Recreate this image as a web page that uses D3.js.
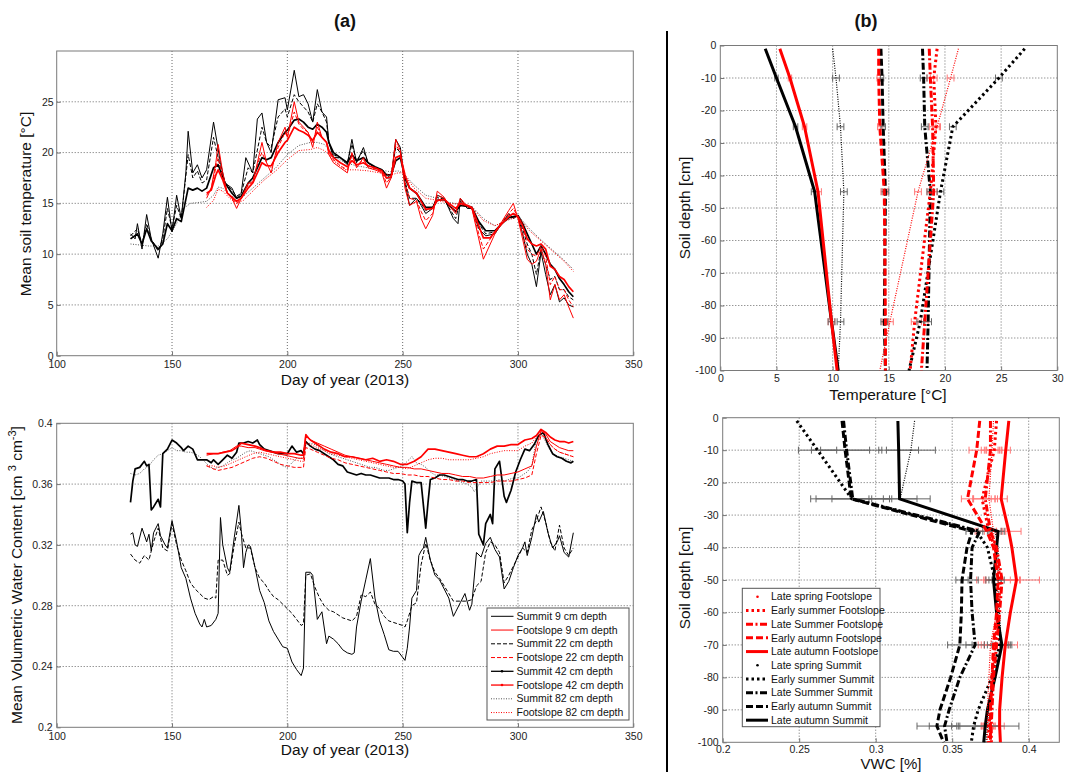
<!DOCTYPE html>
<html><head><meta charset="utf-8">
<script src="https://cdn.jsdelivr.net/npm/d3@7/dist/d3.min.js"></script>
<style>body{margin:0;background:#fff}</style>
</head><body>
<svg id="c" width="1065" height="772" xmlns="http://www.w3.org/2000/svg"></svg>
<script>
// ---------------- DATA: panel (a) top, mean soil temperature [°C] vs day of year
const tS9 = [[132,12],[134,11.5],[135,13],[137,10.5],[139,13.9],[141,11.5],[144,9.6],[146,12],[148,15.6],[150,12.2],[152,15.8],[154,13.5],[156,18],[157,22.1],[159,18],[161,18.8],[163,17.5],[165,18.3],[168,23],[171,19],[173,17],[176,16.5],[178,15.5],[180,16],[182,19.5],[185,18],[187,23.3],[189,23.9],[191,21],[193,20],[196,25.2],[199,25.4],[200,24.2],[203,28.1],[205,25.5],[207,25.7],[209,24.8],[211,23],[213,26.2],[215,24],[217,23.5],[218,21],[220,19.5],[223,19.5],[226,18.8],[228,21.3],[230,19],[233,20.5],[235,19],[238,18.5],[241,18.3],[243,17.5],[245,17.5],[247,21.3],[249,20.5],[251,17],[253,14.8],[256,15.5],[258,14.8],[260,14],[263,14.5],[265,15.8],[268,15.5],[270,14.5],[272,13.5],[274,13],[275,15.5],[278,14.5],[280,14.5],[283,12.5],[286,11.8],[290,12],[293,13],[296,14],[298,13.5],[300,13.8],[302,12],[304,10],[306,9],[308,6.8],[310,10.2],[312,8],[314,6],[316,7],[318,5.3],[320,5.7],[322,5],[324,4.8]];
const tS22 = [[132,11.8],[135,12.5],[137,11],[139,13],[141,11.5],[144,10.3],[146,11.5],[148,14.5],[150,12.5],[152,14.8],[154,13.5],[157,19.8],[159,17.5],[161,18.2],[163,17],[165,17.3],[168,21.5],[171,18.5],[173,17],[176,16.3],[178,15.7],[180,16],[183,18.5],[185,18],[189,22.5],[191,21],[193,20.5],[196,23.5],[199,24.3],[200,23.5],[203,25.7],[205,25],[207,24.5],[209,24],[211,23],[213,24.8],[215,24],[217,23],[218,21],[220,19.8],[223,19.5],[226,19],[228,20.8],[230,19.2],[233,20.2],[235,19],[238,18.5],[241,18.3],[243,17.5],[245,17.8],[247,20.5],[249,20],[251,17.2],[253,15.5],[256,15.5],[258,15],[260,14.3],[263,14.6],[265,15.6],[268,15.4],[270,14.6],[273,13.5],[275,15.2],[278,14.6],[280,14.5],[283,13],[286,12],[290,12.2],[293,13],[296,13.8],[298,13.6],[300,13.8],[302,12.5],[304,11],[306,10],[308,8],[310,10.5],[312,9],[314,7.5],[316,7.8],[318,6.5],[320,6.5],[322,5.8],[324,5.5]];
const tS42 = [[132,11.5],[135,12],[137,11],[139,12.5],[141,11.3],[144,10.5],[146,11],[148,13],[150,12.3],[152,13.5],[154,13.2],[157,16.5],[159,16.3],[161,16.5],[163,16.2],[165,16.5],[168,18.5],[170,18.8],[173,17],[176,16],[178,15.5],[180,15.7],[183,17],[185,17.5],[189,19.5],[191,19.3],[193,19.5],[196,21],[199,22],[200,22.2],[203,23.2],[205,23.3],[207,23],[209,22.5],[211,22.3],[213,22.8],[215,22.5],[217,22],[218,21],[220,20],[223,19.5],[226,19],[228,19.8],[230,19.2],[233,19.5],[235,19],[238,18.6],[241,18.3],[243,17.8],[245,17.8],[247,19.2],[249,19.5],[251,17.5],[253,16.5],[256,16],[258,15.3],[260,14.6],[263,14.6],[265,15.3],[268,15.4],[270,14.8],[273,14.2],[275,14.8],[278,14.7],[280,14.6],[283,13.2],[286,12.3],[290,12.3],[293,13],[296,13.6],[298,13.7],[300,13.8],[302,13],[304,12],[306,11],[308,10],[310,10.8],[312,10],[314,9],[316,8.5],[318,7.6],[320,7],[322,6.3],[324,5.8]];
const tS82 = [[132,11],[136,10.9],[140,10.8],[144,10.8],[148,11.5],[152,13],[155,14.5],[158,15],[162,15.1],[165,15.2],[168,15.8],[170,16.6],[172,16.5],[175,15.8],[178,15.5],[181,15.7],[185,16.5],[190,17.5],[195,18.5],[200,19.8],[205,20.7],[210,21],[213,21],[216,20.8],[218,20.3],[220,19.7],[225,19],[230,18.7],[235,18.5],[240,18.3],[245,18.1],[248,18.2],[250,18],[255,16.8],[260,15.8],[265,15.5],[270,15.1],[275,14.9],[280,14.7],[285,13.5],[290,12.8],[295,13.3],[300,13.8],[305,12.5],[310,11.4],[315,10.4],[320,9.4],[324,8.5]];
const tF9 = [[165,15.5],[167,16.5],[169,19],[170,20.8],[172,18],[174,16],[176,15.5],[178,14.5],[180,15.5],[183,17],[185,17],[188,20],[189,21],[191,19],[193,18],[196,21],[199,22.5],[200,21.5],[203,25],[205,23],[207,22.5],[209,22],[211,20.5],[213,23],[215,21.5],[217,21],[218,19.8],[220,19],[223,18.5],[226,18],[228,20],[230,18.5],[233,19.5],[235,18.5],[238,18.3],[241,18],[243,16.5],[245,17.5],[247,21.3],[249,20.2],[251,16.5],[253,14.8],[256,15.2],[258,13.5],[260,12.5],[263,13.8],[265,16.2],[268,15.6],[270,14.8],[273,14],[275,15.5],[278,14.7],[280,14.5],[283,11.5],[285,9.5],[288,11],[290,12],[293,13.2],[296,14.3],[298,15],[300,13.5],[302,11.5],[304,9.5],[306,9],[308,9.3],[310,10.5],[312,9],[314,5.5],[316,7],[318,5.5],[320,6],[322,4.8],[324,3.7]];
const tF22 = [[165,15.8],[167,16.5],[169,18.5],[170,19.5],[172,17.5],[174,16],[176,15.5],[178,15],[180,15.5],[183,16.8],[185,17.2],[188,19.5],[189,20],[191,19],[193,18.5],[196,20.5],[199,22],[200,21.5],[203,24],[205,22.8],[207,22.3],[209,22],[211,21],[213,22.5],[215,21.5],[217,21],[218,20],[220,19.3],[223,18.7],[226,18.3],[228,19.7],[230,18.7],[233,19.3],[235,18.7],[238,18.4],[241,18.1],[243,17],[245,17.6],[247,20.8],[249,20],[251,17],[253,15.5],[256,15.3],[258,14.2],[260,13.3],[263,14],[265,15.8],[268,15.5],[270,14.9],[273,14.2],[275,15.3],[278,14.7],[280,14.5],[283,12],[285,10.5],[288,11.5],[290,12.2],[293,13.2],[296,14],[298,14.5],[300,13.6],[302,12],[304,10.5],[306,10],[308,9.8],[310,10.8],[312,9.8],[314,7],[316,7.8],[318,6.5],[320,6.5],[322,5.5],[324,4.8]];
const tF42 = [[165,16],[167,16.3],[169,17.8],[170,18.3],[172,17.3],[174,16],[176,15.6],[178,15.2],[180,15.5],[183,16.5],[185,17],[188,18.5],[189,19],[191,18.7],[193,18.7],[196,20],[199,21],[200,21.2],[203,22.5],[205,22.2],[207,22],[209,21.7],[211,21.2],[213,22],[215,21.5],[217,21],[218,20.2],[220,19.5],[223,19],[226,18.6],[228,19.2],[230,18.8],[233,19],[235,18.7],[238,18.5],[241,18.2],[243,17.5],[245,17.6],[247,19.5],[249,19.7],[251,17.8],[253,16.5],[256,16],[258,15.2],[260,14.4],[263,14.5],[265,15.3],[268,15.4],[270,15],[273,14.5],[275,15],[278,14.8],[280,14.6],[283,12.8],[285,11.6],[288,11.6],[290,12.2],[293,13],[296,13.7],[298,14],[300,13.7],[302,12.8],[304,11.5],[306,11],[308,10.8],[310,11],[312,10.5],[314,8.8],[316,8.5],[318,7.8],[320,7.5],[322,6.8],[324,6.3]];
const tF82 = [[165,14.6],[168,15.3],[170,16.4],[172,16.2],[175,15.5],[178,15],[181,15.3],[185,16.2],[190,17.3],[195,18.2],[200,19.3],[205,20.2],[210,20.3],[213,20.5],[216,20.2],[218,19.8],[220,19.2],[225,18.3],[230,18.3],[235,18.2],[240,18],[245,17.8],[248,18],[250,18],[255,16.5],[260,15.5],[265,15.3],[270,15],[275,14.9],[280,14.6],[285,13.3],[290,12.8],[295,13.3],[300,13.7],[305,12.3],[310,11.3],[315,10.3],[320,9.3],[324,8.3]];

// ---------------- DATA: panel (a) bottom, mean VWC [cm3 cm-3] vs day of year
const vS9 = [[132,.327],[133,.328],[134,.320],[135,.319],[137,.331],[139,.322],[140,.327],[141,.316],[142,.328],[144,.334],[145,.326],[147,.320],[148,.318],[150,.336],[152,.322],[154,.305],[156,.298],[158,.285],[160,.275],[162,.268],[163,.266],[164,.271],[165,.266],[167,.267],[169,.271],[170,.275],[171,.338],[172,.320],[174,.305],[175,.302],[177,.325],[179,.346],[180,.330],[181,.305],[182,.315],[183,.320],[184,.319],[186,.305],[188,.290],[190,.282],[192,.270],[194,.263],[196,.258],[198,.253],[200,.252],[202,.243],[204,.238],[206,.234],[207,.239],[208,.302],[210,.302],[211,.300],[213,.271],[215,.276],[217,.255],[218,.260],[220,.258],[222,.255],[224,.251],[226,.249],[228,.248],[229,.249],[230,.266],[232,.283],[234,.297],[236,.311],[238,.285],[240,.270],[242,.261],[244,.251],[246,.250],[248,.250],[250,.246],[251,.244],[252,.252],[253,.266],[254,.285],[256,.290],[257,.313],[258,.316],[259,.318],[260,.325],[262,.310],[264,.300],[266,.297],[268,.291],[270,.285],[272,.273],[273,.276],[275,.282],[277,.288],[279,.277],[280,.281],[282,.315],[284,.312],[286,.321],[288,.325],[290,.317],[292,.312],[294,.291],[296,.296],[298,.305],[300,.313],[302,.318],[303,.322],[304,.313],[306,.325],[308,.340],[309,.335],[311,.342],[313,.328],[315,.318],[317,.322],[318,.326],[320,.315],[322,.312],[324,.328]];
const vS22 = [[132,.314],[134,.310],[136,.308],[138,.313],[140,.310],[142,.322],[144,.331],[146,.318],[148,.316],[150,.334],[152,.320],[154,.310],[156,.303],[158,.295],[160,.291],[162,.288],[164,.285],[166,.284],[168,.286],[169,.285],[170,.310],[172,.310],[174,.300],[175,.301],[177,.320],[179,.335],[180,.328],[182,.318],[184,.318],[186,.305],[188,.298],[190,.295],[192,.290],[194,.286],[196,.284],[198,.281],[200,.278],[202,.275],[204,.271],[206,.267],[207,.268],[208,.300],[210,.301],[212,.292],[214,.285],[216,.280],[218,.277],[220,.276],[222,.274],[224,.272],[226,.271],[228,.270],[230,.273],[232,.287],[234,.286],[236,.289],[238,.281],[240,.278],[242,.273],[244,.270],[246,.269],[248,.268],[250,.267],[251,.266],[252,.270],[254,.280],[256,.282],[258,.307],[260,.321],[262,.310],[264,.302],[266,.298],[268,.293],[270,.288],[272,.283],[274,.283],[276,.283],[278,.283],[280,.284],[282,.293],[284,.296],[286,.315],[288,.322],[290,.320],[292,.315],[294,.295],[296,.300],[298,.306],[300,.312],[302,.318],[304,.315],[306,.330],[308,.336],[310,.345],[312,.335],[314,.322],[316,.316],[318,.333],[320,.318],[322,.313],[324,.318]];
const vS42 = [[132,.348],[133,.362],[134,.370],[136,.371],[138,.375],[139,.372],[140,.373],[141,.343],[142,.345],[144,.350],[145,.345],[146,.380],[148,.383],[150,.389],[152,.387],[154,.384],[155,.382],[157,.385],[159,.383],[161,.376],[163,.376],[165,.376],[167,.374],[168,.376],[170,.373],[172,.376],[174,.379],[176,.377],[178,.381],[179,.387],[181,.387],[183,.388],[185,.387],[187,.389],[188,.386],[190,.383],[192,.382],[194,.381],[196,.380],[198,.380],[200,.380],[202,.385],[204,.381],[206,.382],[207,.380],[208,.388],[210,.385],[212,.383],[214,.382],[216,.380],[218,.378],[220,.376],[222,.373],[224,.372],[226,.368],[228,.367],[230,.366],[232,.367],[234,.366],[236,.366],[238,.365],[240,.364],[242,.364],[244,.364],[246,.363],[248,.363],[250,.362],[251,.360],[252,.328],[253,.348],[254,.362],[256,.361],[258,.361],[260,.331],[261,.348],[262,.363],[264,.364],[266,.366],[268,.366],[270,.365],[272,.364],[274,.363],[276,.363],[278,.362],[280,.362],[282,.363],[283,.327],[285,.320],[286,.334],[288,.340],[289,.334],[290,.370],[292,.375],[294,.352],[295,.348],[297,.356],[299,.368],[301,.376],[303,.383],[305,.382],[307,.386],[309,.392],[311,.394],[313,.386],[315,.380],[317,.378],[319,.377],[321,.375],[323,.374],[324,.375]];
const vS82 = [[132,.367],[134,.366],[136,.367],[138,.370],[140,.372],[142,.376],[144,.379],[146,.380],[148,.382],[150,.384],[152,.382],[154,.382],[156,.381],[158,.381],[160,.380],[162,.378],[164,.375],[166,.372],[168,.370],[170,.371],[172,.372],[174,.374],[176,.376],[178,.377],[180,.379],[182,.381],[184,.382],[186,.381],[188,.380],[190,.379],[192,.378],[194,.376],[196,.374],[198,.372],[200,.371],[202,.374],[204,.377],[206,.377],[207,.377],[208,.386],[210,.387],[212,.386],[214,.384],[216,.382],[218,.380],[220,.379],[222,.378],[224,.377],[226,.376],[228,.375],[230,.374],[232,.373],[234,.372],[236,.371],[238,.371],[240,.370],[242,.369],[244,.369],[246,.370],[248,.371],[250,.372],[252,.375],[254,.378],[256,.374],[258,.373],[260,.371],[262,.368],[264,.366],[266,.366],[268,.365],[270,.364],[272,.363],[274,.362],[276,.361],[278,.360],[280,.358],[281,.355],[282,.357],[284,.362],[286,.362],[288,.362],[290,.362],[292,.363],[294,.362],[296,.363],[298,.364],[300,.364],[302,.366],[304,.368],[306,.372],[308,.390],[310,.393],[312,.388],[314,.382],[316,.379],[318,.378],[320,.377],[322,.376],[324,.375]];
const vF9 = [[165,.379],[168,.380],[170,.380],[172,.381],[175,.382],[178,.385],[180,.385],[183,.384],[186,.384],[188,.383],[190,.382],[193,.381],[196,.380],[199,.379],[202,.378],[205,.377],[207,.377],[208,.393],[210,.389],[213,.387],[216,.385],[219,.383],[222,.381],[225,.379],[228,.378],[231,.377],[234,.376],[237,.375],[240,.374],[243,.373],[246,.372],[249,.371],[252,.371],[255,.370],[258,.370],[261,.369],[264,.368],[267,.367],[270,.367],[273,.366],[276,.365],[279,.365],[282,.364],[285,.364],[288,.365],[291,.366],[294,.366],[297,.367],[300,.368],[303,.370],[306,.372],[308,.385],[310,.395],[312,.393],[314,.388],[316,.386],[318,.384],[320,.383],[322,.382],[324,.382]];
const vF22 = [[165,.372],[168,.370],[170,.369],[173,.370],[176,.371],[179,.373],[182,.375],[185,.377],[188,.378],[191,.377],[194,.375],[197,.373],[200,.372],[203,.371],[206,.371],[207,.371],[208,.384],[210,.383],[213,.381],[216,.379],[219,.377],[222,.376],[225,.374],[228,.373],[231,.372],[234,.371],[237,.370],[240,.369],[243,.368],[246,.367],[249,.367],[252,.366],[255,.366],[258,.365],[261,.365],[264,.364],[267,.363],[270,.363],[273,.362],[276,.362],[279,.361],[282,.361],[285,.361],[288,.361],[291,.362],[294,.362],[297,.362],[300,.363],[303,.364],[306,.366],[308,.380],[310,.392],[312,.391],[314,.386],[316,.383],[318,.381],[320,.380],[322,.379],[324,.378]];
const vF42 = [[165,.380],[168,.380],[170,.380],[173,.381],[176,.382],[178,.384],[180,.387],[183,.386],[186,.385],[188,.384],[191,.382],[194,.381],[197,.381],[200,.380],[203,.380],[206,.379],[207,.379],[208,.392],[210,.389],[213,.386],[216,.383],[219,.381],[222,.380],[225,.378],[228,.378],[231,.377],[234,.376],[237,.377],[240,.375],[243,.376],[246,.375],[249,.373],[252,.373],[255,.375],[258,.378],[261,.383],[264,.383],[267,.382],[270,.381],[273,.380],[276,.379],[279,.378],[282,.378],[285,.380],[288,.383],[291,.385],[294,.385],[297,.386],[300,.386],[303,.389],[306,.390],[308,.392],[310,.396],[312,.394],[314,.391],[316,.389],[318,.388],[320,.388],[322,.387],[324,.388]];
const vF82 = [[165,.372],[168,.372],[170,.371],[173,.372],[176,.374],[179,.376],[182,.378],[185,.380],[188,.381],[191,.380],[194,.379],[197,.378],[200,.377],[203,.376],[206,.375],[207,.375],[208,.387],[210,.386],[213,.384],[216,.382],[219,.380],[222,.379],[225,.378],[228,.377],[231,.376],[234,.375],[237,.374],[240,.373],[243,.372],[246,.371],[249,.371],[252,.370],[255,.372],[258,.374],[261,.376],[264,.377],[267,.377],[270,.376],[273,.376],[276,.376],[279,.376],[282,.377],[285,.378],[288,.380],[291,.381],[294,.382],[297,.382],[300,.382],[303,.385],[306,.387],[308,.391],[310,.393],[312,.390],[314,.386],[316,.383],[318,.381],[320,.380],[322,.379],[324,.378]];

const legendA = ["Summit 9 cm depth","Footslope 9 cm depth","Summit 22 cm depth","Footslope 22 cm depth","Summit 42 cm depth","Footslope 42 cm depth","Summit 82 cm depth","Footslope 82 cm depth"];

// ---------------- DATA: panel (b) top, temperature profiles
const depthT = [-1,-10,-25,-45,-85,-100];
const pTF_lateSpring   = [21.2,20.5,19.3,17.6,15.1,14.2];
const pTF_earlySummer  = [19.3,19.0,19.2,18.7,17.3,16.9];
const pTF_lateSummer   = [18.6,18.7,18.9,19.0,18.2,17.9];
const pTF_earlyAutumn  = [14.1,14.1,14.2,14.6,14.7,14.7];
const pTF_lateAutumn   = [5.3,6.2,7.5,8.7,9.9,10.4];
const pTS_lateSpring   = [10.0,10.3,10.7,11.0,10.7,10.5];
const pTS_earlySummer  = [27.1,24.8,20.7,19.6,17.8,16.8];
const pTS_lateSummer   = [18.0,18.1,18.2,18.7,18.5,18.4];
const pTS_earlyAutumn  = [14.3,14.4,14.5,14.7,14.6,14.7];
const pTS_lateAutumn   = [4.0,5.0,6.7,8.4,9.9,10.5];
const eT_small = [0,0.3,0.3,0.3,0.3,0];
const eT_big   = [0,0.15,0.2,0.3,0.3,0];

// ---------------- DATA: panel (b) bottom, VWC profiles
const depthV = [-1,-10,-25,-35,-40,-50,-60,-70,-80,-90,-95,-100];
const pVF_lateSpring   = [0.377,0.376,0.374,0.377,0.378,0.380,0.379,0.375,0.374,0.373,0.373,0.373];
const pVF_earlySummer  = [0.379,0.3775,0.3695,0.374,0.378,0.3815,0.380,0.378,0.376,0.375,0.374,0.374];
const pVF_lateSummer   = [0.375,0.375,0.3716,0.375,0.379,0.3826,0.381,0.379,0.377,0.376,0.3755,0.3756];
const pVF_earlyAutumn  = [0.368,0.366,0.360,0.3727,0.377,0.380,0.379,0.377,0.376,0.375,0.375,0.375];
const pVF_lateAutumn   = [0.387,0.385,0.382,0.387,0.389,0.392,0.388,0.3847,0.3826,0.381,0.381,0.3815];
const pVS_lateSpring   = [0.3254,0.323,0.316,0.378,0.380,0.380,0.381,0.382,0.378,0.374,0.373,0.372];
const pVS_earlySummer  = [0.2484,0.262,0.2844,0.366,0.373,0.378,0.380,0.381,0.376,0.367,0.364,0.3625];
const pVS_lateSummer   = [0.279,0.281,0.285,0.368,0.363,0.362,0.363,0.365,0.355,0.348,0.345,0.3466];
const pVS_earlyAutumn  = [0.278,0.280,0.284,0.363,0.3597,0.3564,0.356,0.355,0.349,0.342,0.340,0.3444];
const pVS_lateAutumn   = [0.3145,0.315,0.3156,0.380,0.379,0.377,0.379,0.3825,0.378,0.373,0.3716,0.3706];
const eVF_lateSpring   = [0,0.004,0.004,0.006,0,0.008,0,0.006,0,0,0.004,0];
const eVF_earlySummer  = [0,0.005,0.006,0.008,0,0.010,0,0.007,0,0,0.004,0];
const eVF_lateSummer   = [0,0.006,0.008,0.010,0,0.012,0,0.008,0,0,0.005,0];
const eVF_earlyAutumn  = [0,0.005,0.004,0.006,0,0.014,0,0.010,0,0,0.006,0];
const eVF_lateAutumn   = [0,0.003,0.004,0.008,0,0.015,0,0.008,0,0,0.003,0];
const eVS_lateSpring   = [0,0.016,0.011,0.004,0,0.004,0,0.006,0,0,0.008,0];
const eVS_earlySummer  = [0,0.0125,0.013,0.004,0,0.004,0,0.008,0,0,0.010,0];
const eVS_lateSummer   = [0,0.023,0.024,0.005,0,0.005,0,0.006,0,0,0.010,0];
const eVS_earlyAutumn  = [0,0.016,0.0265,0.004,0,0.004,0,0.008,0,0,0.013,0];
const eVS_lateAutumn   = [0,0.013,0.020,0.004,0,0.005,0,0.004,0,0,0.022,0];

const legendB = ["Late spring Footslope","Early summer Footslope","Late Summer Footslope","Early autumn Footslope","Late autumn Footslope","Late spring Summit","Early summer Summit","Late Summer Summit","Early autumn Summit","Late autumn Summit"];

// tick values
const ticksDay = [100,150,200,250,300,350];
const ticksTemp = [0,5,10,15,20,25];
const ticksVWC = [0.2,0.24,0.28,0.32,0.36,0.4];
const ticksProfT = [0,5,10,15,20,25,30];
const ticksDepth = [0,-10,-20,-30,-40,-50,-60,-70,-80,-90,-100];
const ticksProfV = [0.2,0.25,0.3,0.35,0.4];

// ---------------- DRAWING
const FONT = 'Arial, "Liberation Sans", Helvetica, sans-serif';
const svg = d3.select('#c');
const RED = '#ff0000';

function panel(o){
  const x = d3.scaleLinear().domain(o.xd).range([o.l, o.r]);
  const y = d3.scaleLinear().domain(o.yd).range([o.b, o.t]);
  const g = svg.append('g');
  g.selectAll('line.gx').data(o.xt.filter(v => x(v) > o.l + 1 && x(v) < o.r - 1)).join('line')
    .attr('x1', d => x(d)).attr('x2', d => x(d)).attr('y1', o.t).attr('y2', o.b)
    .attr('stroke', '#444').attr('stroke-width', 0.8).attr('stroke-dasharray', '1,2');
  g.selectAll('line.gy').data(o.yt.filter(v => y(v) > o.t + 1 && y(v) < o.b - 1)).join('line')
    .attr('y1', d => y(d)).attr('y2', d => y(d)).attr('x1', o.l).attr('x2', o.r)
    .attr('stroke', '#444').attr('stroke-width', 0.8).attr('stroke-dasharray', '1,2');
  const ax = g.append('g').attr('transform', `translate(0,${o.b})`)
    .call(d3.axisBottom(x).tickValues(o.xt).tickFormat(o.xf).tickSizeInner(-4).tickSizeOuter(0).tickPadding(o.xp));
  const ay = g.append('g').attr('transform', `translate(${o.l},0)`)
    .call(d3.axisLeft(y).tickValues(o.yt).tickFormat(o.yf).tickSizeInner(-4).tickSizeOuter(0).tickPadding(o.yp));
  [ax, ay].forEach(a => {
    a.select('.domain').remove();
    a.selectAll('line').attr('stroke', '#777');
    a.selectAll('text').attr('font-family', FONT).attr('font-size', 10.5).attr('fill', '#222');
  });
  g.append('rect').attr('x', o.l).attr('y', o.t).attr('width', o.r - o.l).attr('height', o.b - o.t)
    .attr('fill', 'none').attr('stroke', '#7a7a7a').attr('stroke-width', 1);
  const lay = svg.append('g');
  return {x, y, g: lay};
}

function label(txt, x, y, rot, size, weight){
  const t = svg.append('text').attr('font-family', FONT).attr('font-size', size || 15)
    .attr('font-weight', weight || 'normal').attr('text-anchor', 'middle').attr('fill', '#111')
    .attr('transform', `translate(${x},${y})` + (rot ? ` rotate(${rot})` : ''));
  t.text(txt);
  return t;
}

const fmtNum = d => String(+d.toFixed(3));

// ----- (a) top
const A1 = panel({l:56.7, r:633.3, t:51, b:355.7, xd:[100,350], yd:[0,30], xt:ticksDay, yt:ticksTemp, xf:fmtNum, yf:fmtNum, xp:5, yp:3});
const lineA1 = d3.line().x(d => A1.x(d[0])).y(d => A1.y(d[1]));
const stylesA = [
  {c:'#000', w:1, da:null},
  {c:RED, w:1, da:null},
  {c:'#000', w:1, da:'4,2'},
  {c:RED, w:1, da:'4,2'},
  {c:'#000', w:1.7, da:null},
  {c:RED, w:1.7, da:null},
  {c:'#555', w:1, da:'1,1.5'},
  {c:RED, w:1, da:'1,1.5'}
];
const seriesA1 = [tS9, tF9, tS22, tF22, tS42, tF42, tS82, tF82];
const orderA = [6,2,0,4,7,3,1,5];
orderA.forEach(i => {
  A1.g.append('path').attr('d', lineA1(seriesA1[i])).attr('fill','none')
    .attr('stroke', stylesA[i].c).attr('stroke-width', stylesA[i].w)
    .attr('stroke-dasharray', stylesA[i].da).attr('stroke-linejoin','round');
});
label('Mean soil temperature [°C]', 31, 204, -90, 15.5);
label('Day of year (2013)', 345, 385, 0, 15.5);

// ----- (a) bottom
const A2 = panel({l:56.7, r:633.3, t:423.3, b:727.3, xd:[100,350], yd:[0.2,0.4], xt:ticksDay, yt:ticksVWC, xf:fmtNum, yf:fmtNum, xp:5, yp:4});
const lineA2 = d3.line().x(d => A2.x(d[0])).y(d => A2.y(d[1]));
const seriesA2 = [vS9, vF9, vS22, vF22, vS42, vF42, vS82, vF82];
orderA.forEach(i => {
  A2.g.append('path').attr('d', lineA2(seriesA2[i])).attr('fill','none')
    .attr('stroke', stylesA[i].c).attr('stroke-width', stylesA[i].w)
    .attr('stroke-dasharray', stylesA[i].da).attr('stroke-linejoin','round');
});
// y label with superscripts
{
  const t = svg.append('text').attr('font-family', FONT).attr('font-size', 15.5).attr('fill','#111')
    .attr('text-anchor','middle').attr('transform','translate(22,575) rotate(-90)');
  t.append('tspan').text('Mean Volumetric Water Content [cm ');
  t.append('tspan').attr('font-size',11).attr('dy',-6).text('3');
  t.append('tspan').attr('dy',6).text(' cm');
  t.append('tspan').attr('font-size',11).attr('dy',-6).text('-3');
  t.append('tspan').attr('dy',6).text(']');
}
label('Day of year (2013)', 345, 755, 0, 15.5);
// legend (a)
{
  const lg = svg.append('g');
  lg.append('rect').attr('x',487).attr('y',608).attr('width',142).attr('height',112)
    .attr('fill','#fff').attr('stroke','#555').attr('stroke-width',1);
  legendA.forEach((name, i) => {
    const yy = 616.3 + i * 13.75;
    const s = stylesA[i];
    lg.append('line').attr('x1',491).attr('x2',513.5).attr('y1',yy).attr('y2',yy)
      .attr('stroke', s.c).attr('stroke-width', s.w > 1 ? 1.3 : 1).attr('stroke-dasharray', s.da);
    if (i === 4 || i === 5) lg.append('circle').attr('cx',502).attr('cy',yy).attr('r',1.3).attr('fill', s.c);
    lg.append('text').attr('x',516.5).attr('y',yy).attr('dy','0.35em').attr('font-family',FONT)
      .attr('font-size',10.5).attr('fill','#111').text(name);
  });
}

// ----- (b) styles
const stylesB = [
  {c:RED, w:1.2, da:'1,1.4', err:'#f77'},
  {c:RED, w:3, da:'2.5,3', err:'#f77'},
  {c:RED, w:3, da:'7,2.5,2,2.5', err:'#f77'},
  {c:RED, w:3, da:'7,3', err:'#f77'},
  {c:RED, w:3, da:null, err:'#f77'},
  {c:'#000', w:1.2, da:'1,1.4', err:'#666'},
  {c:'#000', w:3, da:'2.5,3', err:'#666'},
  {c:'#000', w:3, da:'7,2.5,2,2.5', err:'#666'},
  {c:'#000', w:3, da:'7,3', err:'#666'},
  {c:'#000', w:3, da:null, err:'#666'}
];

function profiles(P, depth, vals, errs){
  const ln = d3.line().x(d => P.x(d[0])).y(d => P.y(d[1]));
  vals.forEach((v, k) => {
    const s = stylesB[k];
    v.forEach((val, j) => {
      const e = errs[k][j];
      if (!e) return;
      const yy = P.y(depth[j]);
      P.g.append('line').attr('x1', P.x(val - e)).attr('x2', P.x(val + e)).attr('y1', yy).attr('y2', yy)
        .attr('stroke', s.err).attr('stroke-width', 1);
      [val - e, val + e].forEach(xv => P.g.append('line').attr('x1', P.x(xv)).attr('x2', P.x(xv))
        .attr('y1', yy - 3.5).attr('y2', yy + 3.5).attr('stroke', s.err).attr('stroke-width', 1));
    });
  });
  [5,6,7,8,9,0,1,2,3,4].forEach(k => {
    const s = stylesB[k];
    const pts = vals[k].map((v, j) => [v, depth[j]]);
    P.g.append('path').attr('d', ln(pts)).attr('fill','none').attr('stroke', s.c)
      .attr('stroke-width', s.w).attr('stroke-dasharray', s.da).attr('stroke-linejoin','round');
  });
}

// ----- (b) top
const B1 = panel({l:720.3, r:1057.3, t:45.5, b:370.5, xd:[0,30], yd:[-100,0], xt:ticksProfT, yt:ticksDepth, xf:fmtNum, yf:fmtNum, xp:4, yp:4});
profiles(B1, depthT,
  [pTF_lateSpring,pTF_earlySummer,pTF_lateSummer,pTF_earlyAutumn,pTF_lateAutumn,pTS_lateSpring,pTS_earlySummer,pTS_lateSummer,pTS_earlyAutumn,pTS_lateAutumn],
  [eT_small,eT_small,eT_small,eT_big,eT_big,eT_small,eT_small,eT_small,eT_big,eT_big]);
label('Soil depth [cm]', 690, 208, -90, 15.5);
label('Temperature [°C]', 888, 400, 0, 15.5);

// ----- (b) bottom
const B2 = panel({l:722.7, r:1059.3, t:417.7, b:742.3, xd:[0.2,0.42], yd:[-100,0], xt:ticksProfV, yt:ticksDepth, xf:fmtNum, yf:fmtNum, xp:3, yp:4});
profiles(B2, depthV,
  [pVF_lateSpring,pVF_earlySummer,pVF_lateSummer,pVF_earlyAutumn,pVF_lateAutumn,pVS_lateSpring,pVS_earlySummer,pVS_lateSummer,pVS_earlyAutumn,pVS_lateAutumn],
  [eVF_lateSpring,eVF_earlySummer,eVF_lateSummer,eVF_earlyAutumn,eVF_lateAutumn,eVS_lateSpring,eVS_earlySummer,eVS_lateSummer,eVS_earlyAutumn,eVS_lateAutumn]);
label('Soil depth [cm]', 690, 578, -90, 15.5);
label('VWC [%]', 891, 768.5, 0, 15);
// legend (b)
{
  const lg = svg.append('g');
  lg.append('rect').attr('x',742.3).attr('y',588.3).attr('width',137.7).attr('height',138.4)
    .attr('fill','#fff').attr('stroke','#555').attr('stroke-width',1);
  legendB.forEach((name, i) => {
    const yy = 596.7 + i * 13.72;
    const s = stylesB[i];
    if (i === 0 || i === 5) {
      lg.append('circle').attr('cx',757.5).attr('cy',yy).attr('r',1.3).attr('fill', s.c);
    } else {
      lg.append('line').attr('x1',746).attr('x2',768).attr('y1',yy).attr('y2',yy)
        .attr('stroke', s.c).attr('stroke-width', 3).attr('stroke-dasharray', s.da);
    }
    lg.append('text').attr('x',771).attr('y',yy).attr('dy','0.35em').attr('font-family',FONT)
      .attr('font-size',10.5).attr('fill','#111').text(name);
  });
}

// titles and divider
label('(a)', 345, 27, 0, 18, 'bold');
label('(b)', 866, 27, 0, 18, 'bold');
svg.append('line').attr('x1',667).attr('x2',667).attr('y1',31).attr('y2',772).attr('stroke','#000').attr('stroke-width',2);
</script>
</body></html>
